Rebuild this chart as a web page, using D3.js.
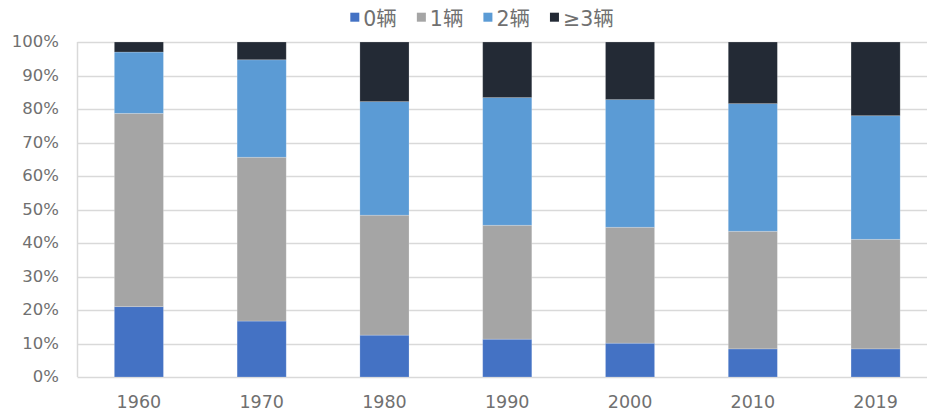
<!DOCTYPE html>
<html>
<head>
<meta charset="utf-8">
<script src="https://cdn.jsdelivr.net/npm/d3@7"></script>
<style>
  body { margin: 0; background: #fff; }
  svg { display: block; font-family: "DejaVu Sans", "Noto Sans CJK SC", sans-serif; }
</style>
</head>
<body>
<div id="chart"></div>
<script>
// years on the x axis
var years = ["1960", "1970", "1980", "1990", "2000", "2010", "2019"];
// series names (legend)
var seriesNames = ["0辆", "1辆", "2辆", "≥3辆"];
// share of households by number of vehicles, %
var car0 = [21.0, 16.7, 12.5, 11.3, 10.1, 8.4, 8.4];
var car1 = [57.7, 48.9, 35.8, 34.0, 34.6, 35.1, 32.7];
var car2 = [18.3, 29.1, 33.9, 38.1, 38.1, 38.1, 36.9];
var car3 = [3.0, 5.3, 17.8, 16.6, 17.2, 18.4, 22.0];
var yTicks = [0, 10, 20, 30, 40, 50, 60, 70, 80, 90, 100];

var colors = ["#4472C4", "#A5A5A5", "#5B9BD5", "#232A35"];

var W = 927, H = 416;
var margin = {top: 42, left: 77.5, bottom: 39};
var plotRight = 937; // plot area runs past the right edge of the picture

var svg = d3.select("#chart").append("svg")
    .attr("width", W)
    .attr("height", H);

var x = d3.scaleBand()
    .domain(years)
    .range([margin.left, plotRight])
    .paddingInner(0.6)
    .paddingOuter(0.3);

var y = d3.scaleLinear()
    .domain([0, 100])
    .range([H - margin.bottom, margin.top]);

// build the table for the stack
var table = years.map(function(yr, i) {
    return {year: yr, s0: car0[i], s1: car1[i], s2: car2[i], s3: car3[i]};
});
var stack = d3.stack().keys(["s0", "s1", "s2", "s3"]);
var layers = stack(table);

// gridlines
svg.append("g").selectAll("line")
    .data(yTicks)
    .enter().append("line")
    .attr("x1", margin.left)
    .attr("x2", W)
    .attr("y1", function(d) { return Math.round(y(d)) + 0.5; })
    .attr("y2", function(d) { return Math.round(y(d)) + 0.5; })
    .style("stroke", "#D9D9D9")
    .style("stroke-width", 1.5);

// left axis line
svg.append("line")
    .attr("x1", margin.left).attr("x2", margin.left)
    .attr("y1", y(100)).attr("y2", y(0))
    .style("stroke", "#D9D9D9")
    .style("stroke-width", 1.5);

// y tick labels
svg.append("g").selectAll("text")
    .data(yTicks)
    .enter().append("text")
    .attr("x", 59)
    .attr("y", function(d) { return y(d); })
    .attr("dy", "0.33em")
    .attr("text-anchor", "end")
    .style("font-size", "16.5px")
    .style("fill", "#707070")
    .text(function(d) { return d + "%"; });

// bars
var groups = svg.append("g").selectAll("g")
    .data(layers)
    .enter().append("g")
    .style("fill", function(d, i) { return colors[i]; });

groups.selectAll("rect")
    .data(function(d) { return d; })
    .enter().append("rect")
    .attr("x", function(d) { return x(d.data.year); })
    .attr("width", x.bandwidth())
    .attr("y", function(d) { return y(d[1]); })
    .attr("height", function(d) { return y(d[0]) - y(d[1]); })
    .style("stroke", "rgba(255,255,255,0.25)")
    .style("stroke-width", 0.8);

// x labels
svg.append("g").selectAll("text")
    .data(years)
    .enter().append("text")
    .attr("x", function(d) { return x(d) + x.bandwidth() / 2; })
    .attr("y", 408)
    .attr("text-anchor", "middle")
    .style("font-size", "17.5px")
    .style("fill", "#707070")
    .text(function(d) { return d; });

// legend
var legend = svg.append("g");
var items = legend.selectAll("g")
    .data(seriesNames)
    .enter().append("g");
items.append("rect")
    .attr("width", 9).attr("height", 9)
    .attr("y", 12.7)
    .style("fill", function(d, i) { return colors[i]; });
items.append("text")
    .attr("x", 13)
    .attr("y", 26)
    .style("font-size", "20.5px")
    .style("fill", "#707070")
    .text(function(d) { return d; });

var pos = 0;
items.each(function() {
    var g = d3.select(this);
    g.attr("transform", "translate(" + pos + ",0)");
    pos += 13 + g.select("text").node().getComputedTextLength() + 20;
});
var totalW = pos - 20;
legend.attr("transform", "translate(" + (482 - totalW / 2) + ",0)");
</script>
</body>
</html>
